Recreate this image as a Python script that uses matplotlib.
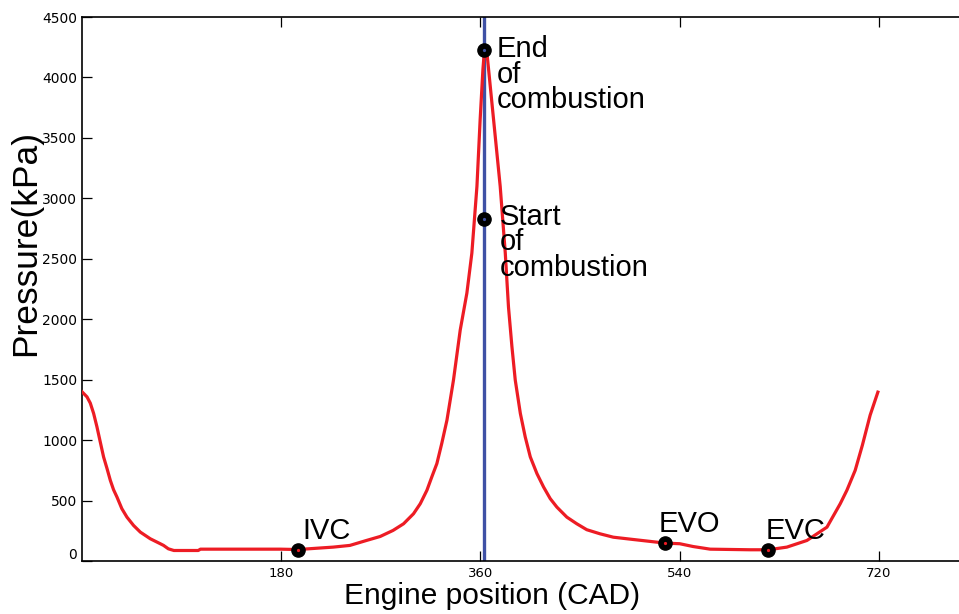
import matplotlib
matplotlib.use("Agg")
import matplotlib.pyplot as plt
import matplotlib.transforms as mtransforms

# --- cylinder pressure over one 4-stroke cycle ------------------------
cad = [0, 4.5, 7.5, 10.5, 13.5, 16.5, 19.5, 22.6, 25.6, 28.5, 31.6, 36, 40.6,
       46.6, 52.7, 61.7, 70.7, 73.7, 78, 83, 105, 107, 140, 179, 195, 227,
       242, 257, 269.4, 281, 290.5, 299.5, 305.6, 311.6, 316, 320.6, 325,
       329.7, 335.6, 341.7, 347.7, 352.2, 356.8, 359.7, 362.2, 363.6, 365.8,
       371.8, 377.8, 382.4, 385.3, 388.4, 391.4, 396, 400.4, 405, 411, 417,
       423, 429, 438, 447, 456, 468, 480, 498, 527, 540, 552, 567.5, 603.6,
       620, 636.8, 654.9, 673, 685, 691, 698.5, 705, 712, 719]
pressure = [1400, 1358, 1306, 1221, 1110, 985, 861, 765, 667, 590, 529, 433,
            363, 294, 239, 184, 143, 129, 101, 87, 87, 98, 98, 98, 95, 115,
            129, 170, 203, 253, 308, 391, 474, 585, 695, 806, 972, 1165, 1497,
            1911, 2216, 2547, 3100, 3653, 4067, 4227, 4206, 3653, 3100, 2547,
            2100, 1773, 1497, 1221, 1027, 861, 723, 612, 516, 446, 363, 308,
            259, 225, 197, 178, 148, 143, 120, 98, 93, 93, 115, 170, 280, 474,
            585, 750, 958, 1206, 1397]

# combustion marker line
tdc_cad = 363

# valve events / combustion points: (cad, pressure)
event_names = ["IVC", "EVO", "EVC", "Start\nof\ncombustion", "End\nof\ncombustion"]
event_cad = [194.8, 526.8, 620, 363, 363]
event_p = [93, 148, 93, 2830, 4225]
event_dot = ["#ed1c24", "#ed1c24", "#ed1c24", "#3f51a5", "#3f51a5"]
# text anchor (left, top) for each label
label_cad = [199, 520.5, 618, 377, 375]
label_p = [368, 418, 368, 2962, 4350]

xticks = [180, 360, 540, 720]
yticks = list(range(0, 4501, 500))

LAB = ["Liberation Sans", "DejaVu Sans"]

fig = plt.figure(figsize=(9.59, 6.14), dpi=100)
ax = fig.add_axes([0.0855, 0.0863, 0.9234, 0.886])

ax.axvline(tdc_cad, color="#3f51a5", lw=2.4, zorder=2)
ax.plot(cad, pressure, color="#ed1c24", lw=2.3, zorder=3)

ax.plot(event_cad, event_p, "o", color="black", ms=9.5, zorder=4, ls="none")
for x, y, c in zip(event_cad, event_p, event_dot):
    ax.plot(x, y, "o", color=c, ms=1.3, zorder=5)

for name, x, y in zip(event_names, label_cad, label_p):
    ax.text(x, y, name, family=LAB, fontsize=21, ha="left", va="top",
            linespacing=0.88, zorder=6)

ax.set_xlim(0, 800)
ax.set_ylim(0, 4500)
ax.set_xticks(xticks)
ax.set_yticks(yticks)

ax.tick_params(axis="both", direction="in", length=7, width=0.9,
               top=True, right=False, labelsize=10)
ax.tick_params(axis="x", labelsize=9.5, pad=4)
ax.spines["right"].set_visible(False)
for s in ["left", "bottom", "top"]:
    ax.spines[s].set_linewidth(1.2)

# nudge the "0" label up off the corner
lab0 = ax.get_yticklabels()[0]
lab0.set_transform(lab0.get_transform() +
                   mtransforms.ScaledTranslation(0, 8 / 100, fig.dpi_scale_trans))

ax.set_xlabel("Engine position (CAD)", family=LAB, fontsize=21.5)
ax.xaxis.set_label_coords(0.463, -0.038)
ax.set_ylabel("Pressure(kPa)", family=LAB, fontsize=25.5)
ax.yaxis.set_label_coords(-0.045, 0.585)

fig.savefig("out.png", dpi=100)
